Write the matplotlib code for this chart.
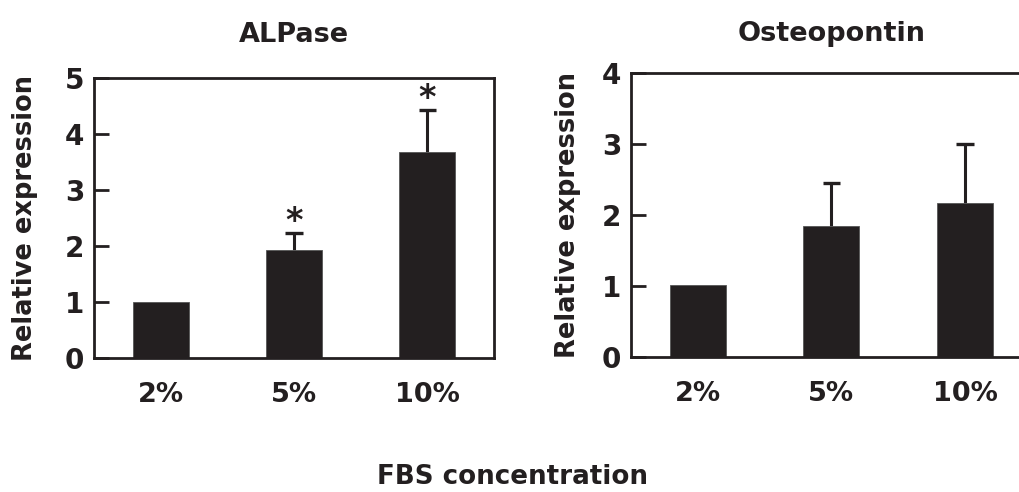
import matplotlib
matplotlib.use('Agg')
import matplotlib.pyplot as plt

groups = ['2%', '5%', '10%']

alpase_mean = [1.0, 1.93, 3.67]
alpase_err = [0.0, 0.30, 0.76]
alpase_star = [False, True, True]

opn_mean = [1.02, 1.84, 2.17]
opn_err = [0.0, 0.61, 0.83]

ink = '#231f20'
plt.rcParams['font.family'] = 'DejaVu Sans'
plt.rcParams['font.weight'] = 'bold'

fig = plt.figure(figsize=(10.2, 4.92), dpi=100)
ax1 = fig.add_axes([0.0922, 0.2724, 0.392, 0.569])
ax2 = fig.add_axes([0.6186, 0.2744, 0.393, 0.577])


def draw_panel(ax, means, errs, ymax, title, title_pad, ylab_pad):
    xs = list(range(len(groups)))
    ax.bar(xs, means, width=0.42, color=ink, edgecolor='#555555', linewidth=0.6, zorder=2)
    for x, m, e in zip(xs, means, errs):
        if e > 0:
            # upper error bar only
            ax.vlines(x, m, m + e, color=ink, linewidth=2.2, zorder=1)
            ax.hlines(m + e, x - 0.065, x + 0.065, color=ink, linewidth=2.4, zorder=1)
    ax.set_xlim(-0.5, 2.5)
    ax.set_ylim(0, ymax)
    ax.set_yticks(range(ymax + 1))
    ax.set_xticks(xs)
    ax.set_xticklabels(groups)
    ax.tick_params(axis='y', direction='in', length=11, width=2, color=ink,
                   labelsize=20, pad=7, labelcolor=ink)
    ax.tick_params(axis='x', length=0, labelsize=19.5, pad=17, labelcolor=ink)
    for s in ax.spines.values():
        s.set_linewidth(2)
        s.set_color(ink)
    ax.set_ylabel('Relative expression', fontsize=18.5, fontweight='bold', color=ink,
                  labelpad=ylab_pad)
    ax.set_title(title, fontsize=19.5, fontweight='bold', color=ink, pad=title_pad)


draw_panel(ax1, alpase_mean, alpase_err, 5, 'ALPase', 26, 19)
draw_panel(ax2, opn_mean, opn_err, 4, 'Osteopontin', 23, 15)

for x, m, e, s in zip(range(len(groups)), alpase_mean, alpase_err, alpase_star):
    if s:
        ax1.text(x, m + e + 0.03, '*', ha='center', va='baseline', fontsize=24,
                 fontweight='bold', color=ink)

fig.text(0.502, 0.03, 'FBS concentration', ha='center', va='center',
         fontsize=18.8, fontweight='bold', color=ink)

fig.savefig('out.png', dpi=100)
